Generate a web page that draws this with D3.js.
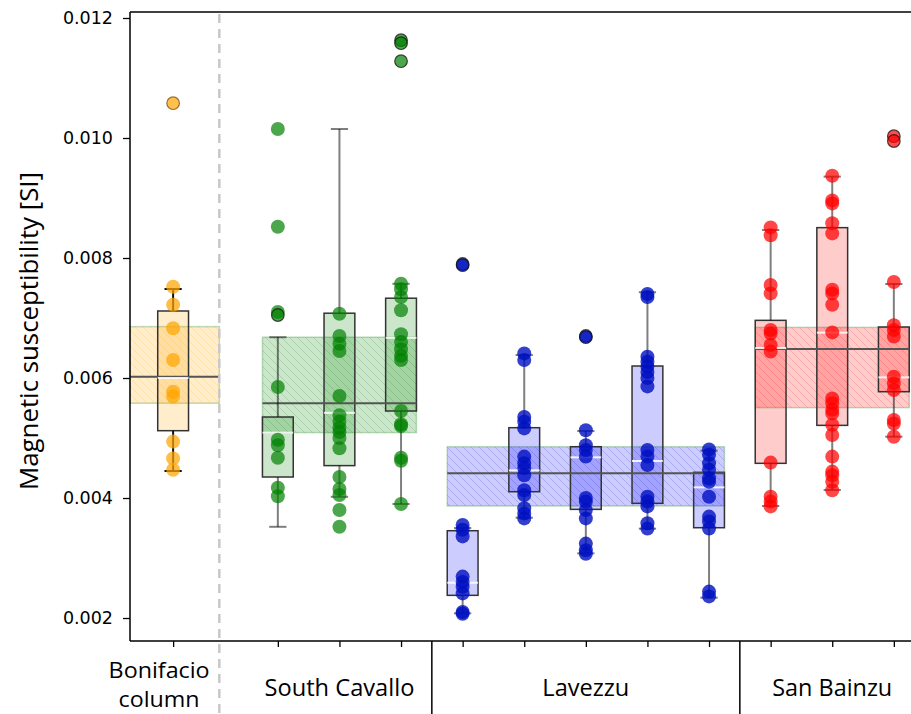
<!DOCTYPE html>
<html><head><meta charset="utf-8">
<script src="https://cdn.jsdelivr.net/npm/d3@7"></script>
<style>body{margin:0;background:#fff}</style>
</head><body><svg id="c" width="911" height="714"></svg>
<script>
// ---------- DATA ----------
const groups = ["Bonifacio column", "South Cavallo", "Lavezzu", "San Bainzu"];
const groupBandLow  = [0.00558, 0.00509, 0.003867, 0.005506];
const groupBandHigh = [0.006856, 0.00668, 0.004855, 0.006844];
const groupMedian   = [0.006022, 0.00558, 0.004411, 0.006483];

const boxGroup = [0, 1, 1, 1, 2, 2, 2, 2, 2, 3, 3, 3];
const boxPos   = [0, 1.7, 2.7, 3.7, 4.7, 5.7, 6.7, 7.7, 8.7, 9.7, 10.7, 11.7];
const boxQ1    = [0.005122, 0.00435, 0.00454, 0.00545, 0.002378, 0.004105, 0.003811, 0.003911, 0.003505, 0.004578, 0.005211, 0.005772];
const boxQ3    = [0.007117, 0.00535, 0.00708, 0.00733, 0.003455, 0.005172, 0.004855, 0.0062, 0.004428, 0.006961, 0.008506, 0.00685];
const boxMed   = [0.006, 0.00509, 0.00542, 0.00667, 0.002588, 0.004461, 0.004678, 0.004617, 0.004178, 0.0065, 0.006756, 0.006011];
const whiskLow = [0.00445, 0.00352, 0.00402, 0.0039, 0.002078, 0.003672, 0.003078, 0.003489, 0.002339, 0.003867, 0.004133, 0.005022];
const whiskHigh= [0.007483, 0.00668, 0.01015, 0.00757, 0.0035, 0.006383, 0.005117, 0.00743, 0.004789, 0.008467, 0.009356, 0.007567];

const points = [
  [0.00752, 0.00722, 0.00683, 0.0063, 0.00577, 0.00569, 0.00494, 0.00466, 0.00447],
  [0.01015, 0.00852, 0.0071, 0.00585, 0.00497, 0.00488, 0.00467, 0.00417, 0.00403],
  [0.00707, 0.0067, 0.00657, 0.00645, 0.0057, 0.00538, 0.00527, 0.00517, 0.0051, 0.005, 0.00483, 0.00435, 0.00415, 0.00405, 0.0038, 0.00352],
  [0.00757, 0.00748, 0.00735, 0.00713, 0.00673, 0.0066, 0.00648, 0.00637, 0.0063, 0.00545, 0.00523, 0.0052, 0.00467, 0.00462, 0.0039],
  [0.00355, 0.00347, 0.00336, 0.00269, 0.0026, 0.00252, 0.00241, 0.0021, 0.00207],
  [0.00641, 0.0063, 0.00535, 0.00527, 0.00516, 0.00469, 0.00458, 0.0045, 0.00438, 0.00413, 0.00405, 0.00383, 0.00374, 0.00366],
  [0.00513, 0.00488, 0.0048, 0.00469, 0.004, 0.00394, 0.0038, 0.00366, 0.00324, 0.00313, 0.00307],
  [0.0074, 0.00735, 0.006355, 0.00627, 0.00619, 0.0061, 0.006, 0.00586, 0.0048, 0.00469, 0.00455, 0.00402, 0.00394, 0.00386, 0.00358, 0.00349],
  [0.00481, 0.00472, 0.00458, 0.00447, 0.00433, 0.00427, 0.00402, 0.00369, 0.00361, 0.00349, 0.00244, 0.00236],
  [0.00851, 0.00838, 0.00755, 0.00741, 0.0068, 0.00674, 0.00655, 0.00644, 0.00459, 0.00402, 0.00394, 0.00386],
  [0.00937, 0.00896, 0.00891, 0.00858, 0.00841, 0.00747, 0.00741, 0.00722, 0.00676, 0.00566, 0.00558, 0.00547, 0.00541, 0.00522, 0.00505, 0.00469, 0.00444, 0.00438, 0.00427, 0.00413],
  [0.0076, 0.00688, 0.0068, 0.00669, 0.00602, 0.00591, 0.0058, 0.0053, 0.00524, 0.00502]
];
const fliers = [
  [0.01058], [0.00705], [], [0.01163, 0.01158, 0.01128],
  [0.0079, 0.00788], [], [0.0067, 0.00668], [], [],
  [], [], [0.01003, 0.00995]
];
const yTicks = [0.002, 0.004, 0.006, 0.008, 0.010, 0.012];
const xDomain = [-0.7, 12.3];
const yDomain = [0.001617, 0.0121];
const dashedPos = 0.75;
const separatorPos = [4.2, 9.2];

// ---------- STYLE ----------
const pointColors = ["#FFA500", "#008000", "#0010C0", "#FF0000"];
const pointOpacity = [0.72, 0.7, 0.8, 0.72];
const boxFills    = ["#FFA500", "#008000", "#0000FF", "#FF0000"];
const labelWidths = [101, 150, 87, 120];

// ---------- DRAW ----------
const svg = d3.select("#c");
const L = 130, R = 930.8, T = 12, B = 641;
const x = d3.scaleLinear().domain(xDomain).range([L, R]);
const y = d3.scaleLinear().domain(yDomain).range([B, T]);
const bw = x(0.25) - x(0);
const cw = x(0.14) - x(0);

const defs = svg.append("defs");
pointColors.forEach((c, i) => {
  const p = defs.append("pattern").attr("id", "hatch" + i).attr("patternUnits", "userSpaceOnUse")
    .attr("width", 8).attr("height", 8);
  p.append("path").attr("d", "M-2,-2L10,10M-2,6L2,10M6,-2L10,2")
    .attr("stroke", c).attr("stroke-opacity", 0.22).attr("stroke-width", 0.8);
});

const groupIdx = groups.map((g, gi) => boxGroup.map((b, i) => b === gi ? i : -1).filter(i => i >= 0));
const bandX = groups.map((g, gi) => {
  const idx = groupIdx[gi];
  if (gi === 0) return [xDomain[0], dashedPos];
  return [boxPos[idx[0]] - 0.25, boxPos[idx[idx.length - 1]] + 0.25];
});

// bands
const bandG = svg.append("g");
groups.forEach((g, gi) => {
  const [a, b] = bandX[gi];
  const r = () => bandG.append("rect").attr("x", x(a)).attr("width", x(b) - x(a))
    .attr("y", y(groupBandHigh[gi])).attr("height", y(groupBandLow[gi]) - y(groupBandHigh[gi]));
  r().attr("fill", boxFills[gi]).attr("fill-opacity", 0.2);
  r().attr("fill", "url(#hatch" + gi + ")")
    .attr("stroke", "#2e8b2e").attr("stroke-opacity", 0.3).attr("stroke-width", 1.5);
});

// boxes
boxPos.forEach((p, i) => {
  svg.append("rect").attr("x", x(p) - bw).attr("width", 2 * bw)
    .attr("y", y(boxQ3[i])).attr("height", y(boxQ1[i]) - y(boxQ3[i]))
    .attr("fill", boxFills[boxGroup[i]]).attr("fill-opacity", 0.2)
    .attr("stroke", "#333").attr("stroke-width", 1.5);
});

// group median lines
groups.forEach((g, gi) => {
  const [a, b] = bandX[gi];
  svg.append("line").attr("x1", x(a)).attr("x2", x(b))
    .attr("y1", y(groupMedian[gi])).attr("y2", y(groupMedian[gi]))
    .attr("stroke", "#555").attr("stroke-width", 2);
});

// box medians (white)
boxPos.forEach((p, i) => {
  svg.append("line").attr("x1", x(p) - bw).attr("x2", x(p) + bw)
    .attr("y1", y(boxMed[i])).attr("y2", y(boxMed[i]))
    .attr("stroke", "#fff").attr("stroke-opacity", 0.85).attr("stroke-width", 2);
});

// whiskers
boxPos.forEach((p, i) => {
  const col = i === 0 ? "#111" : "rgba(0,0,0,0.5)";
  const g = svg.append("g").attr("stroke", col).attr("stroke-width", 2);
  g.append("line").attr("x1", x(p)).attr("x2", x(p)).attr("y1", y(boxQ3[i])).attr("y2", y(whiskHigh[i]));
  g.append("line").attr("x1", x(p)).attr("x2", x(p)).attr("y1", y(boxQ1[i])).attr("y2", y(whiskLow[i]));
  [whiskLow[i], whiskHigh[i]].forEach(v => {
    g.append("line").attr("x1", x(p) - cw).attr("x2", x(p) + cw).attr("y1", y(v)).attr("y2", y(v));
  });
});

// points
boxPos.forEach((p, i) => {
  svg.append("g").selectAll("circle").data(points[i]).join("circle")
    .attr("cx", x(p)).attr("cy", d => y(d)).attr("r", 7)
    .attr("fill", pointColors[boxGroup[i]]).attr("fill-opacity", pointOpacity[boxGroup[i]]);
});
// fliers
boxPos.forEach((p, i) => {
  svg.append("g").selectAll("circle").data(fliers[i]).join("circle")
    .attr("cx", x(p)).attr("cy", d => y(d)).attr("r", 6.3)
    .attr("fill", pointColors[boxGroup[i]]).attr("fill-opacity", 0.7)
    .attr("stroke", i === 0 ? "#7a4a00" : "#111").attr("stroke-opacity", 0.75).attr("stroke-width", 1.2);
});

// dashed line
svg.append("line").attr("x1", x(dashedPos)).attr("x2", x(dashedPos)).attr("y1", T + 2).attr("y2", 714)
  .attr("stroke", "#c8c8c8").attr("stroke-width", 2.5).attr("stroke-dasharray", "9,6");

// separators
separatorPos.forEach(s => {
  svg.append("line").attr("x1", x(s)).attr("x2", x(s)).attr("y1", B).attr("y2", 714)
    .attr("stroke", "#000").attr("stroke-width", 1.5);
});

// spines
svg.append("line").attr("x1", L).attr("x2", L).attr("y1", T).attr("y2", B).attr("stroke", "#000").attr("stroke-width", 1.5);
svg.append("line").attr("x1", L).attr("x2", 911).attr("y1", T).attr("y2", T).attr("stroke", "#000").attr("stroke-width", 1.5);
svg.append("line").attr("x1", L).attr("x2", 911).attr("y1", B).attr("y2", B).attr("stroke", "#000").attr("stroke-width", 1.5);

// y axis
const yAxis = d3.axisLeft(y).tickValues(yTicks).tickFormat(d3.format(".3f")).tickSize(7).tickPadding(10);
const ya = svg.append("g").attr("transform", `translate(${L},0)`).call(yAxis);
ya.select(".domain").remove();
ya.selectAll("line").attr("stroke", "#000").attr("stroke-width", 1.3);
ya.selectAll("text").attr("font-family", "DejaVu Sans").attr("font-size", 17.5).attr("fill", "#000");

// x axis ticks
const xa = svg.append("g").attr("transform", `translate(0,${B})`)
  .call(d3.axisBottom(x).tickValues(boxPos).tickFormat("").tickSize(6));
xa.select(".domain").remove();
xa.selectAll("line").attr("stroke", "#000").attr("stroke-width", 1.3);

// group labels
const labelFont = "Open Sans";
groups.forEach((g, gi) => {
  const idx = groupIdx[gi];
  const cx = x((boxPos[idx[0]] + boxPos[idx[idx.length - 1]]) / 2);
  if (gi === 0) {
    const parts = g.split(" ");
    svg.append("text").attr("x", cx - labelWidths[0] / 2 - 14).attr("y", 678)
      .attr("font-family", labelFont).attr("font-size", 22).attr("fill", "#000")
      .attr("textLength", labelWidths[0]).attr("lengthAdjust", "spacingAndGlyphs").text(parts[0]);
    svg.append("text").attr("x", cx - 81 / 2 - 14).attr("y", 707)
      .attr("font-family", labelFont).attr("font-size", 22).attr("fill", "#000")
      .attr("textLength", 81).attr("lengthAdjust", "spacingAndGlyphs").text(parts[1]);
  } else {
    svg.append("text").attr("x", cx - labelWidths[gi] / 2).attr("y", 696)
      .attr("font-family", labelFont).attr("font-size", 24).attr("fill", "#000")
      .attr("textLength", labelWidths[gi]).attr("lengthAdjust", "spacingAndGlyphs").text(g);
  }
});

// y label
svg.append("text").attr("transform", `translate(38,331) rotate(-90)`)
  .attr("x", -159).attr("text-anchor", "start")
  .attr("font-family", labelFont).attr("font-size", 25).attr("fill", "#000")
  .attr("textLength", 318).attr("lengthAdjust", "spacingAndGlyphs")
  .text("Magnetic susceptibility [SI]");
</script></body></html>
